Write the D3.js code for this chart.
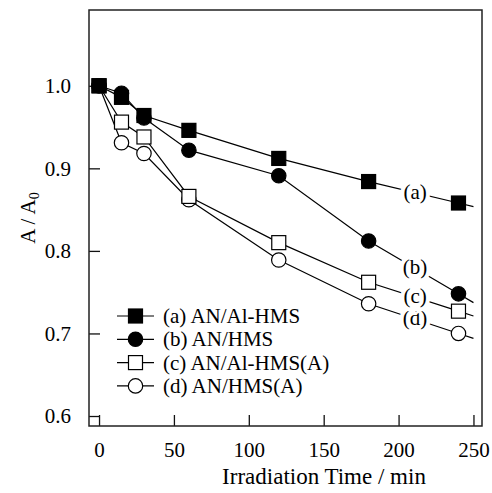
<!DOCTYPE html>
<html>
<head>
<meta charset="utf-8">
<script src="https://cdn.jsdelivr.net/npm/d3@7"></script>
<style>
  body { margin: 0; background: #fff; }
  svg { display: block; font-family: "Liberation Serif", "Times New Roman", serif; }
</style>
</head>
<body>
<div id="chart"></div>
<script>
// data
const times = [0, 15, 30, 60, 120, 180, 240];
const seriesA = [1.0, 0.986, 0.964, 0.946, 0.912, 0.884, 0.858]; // AN/Al-HMS
const seriesB = [1.0, 0.991, 0.961, 0.922, 0.891, 0.812, 0.748]; // AN/HMS
const seriesC = [1.0, 0.956, 0.938, 0.866, 0.810, 0.762, 0.727]; // AN/Al-HMS(A)
const seriesD = [1.0, 0.931, 0.918, 0.862, 0.789, 0.736, 0.700]; // AN/HMS(A)
const xTicks = [0, 50, 100, 150, 200, 250];
const yTicks = [0.6, 0.7, 0.8, 0.9, 1.0];
const tags = ["(a)", "(b)", "(c)", "(d)"];
const names = ["(a) AN/Al-HMS", "(b) AN/HMS", "(c) AN/Al-HMS(A)", "(d) AN/HMS(A)"];

const width = 492;
const height = 493;
const margin = { top: 10, right: 10, bottom: 67, left: 89 };

const series = [
    { tag: tags[0], name: names[0], values: seriesA, shape: "square", fill: "#000" },
    { tag: tags[1], name: names[1], values: seriesB, shape: "circle", fill: "#000" },
    { tag: tags[2], name: names[2], values: seriesC, shape: "square", fill: "#fff" },
    { tag: tags[3], name: names[3], values: seriesD, shape: "circle", fill: "#fff" },
];

const svg = d3.select("#chart").append("svg")
    .attr("width", width)
    .attr("height", height);

const xScale = d3.scaleLinear()
    .domain([-6.7, 255.7])
    .range([margin.left, width - margin.right]);

const yScale = d3.scaleLinear()
    .domain([0.5879, 1.0918])
    .range([height - margin.bottom, margin.top]);

// axes, ticks pointing inward
const xAxis = d3.axisBottom(xScale).tickValues(xTicks).tickSize(-11).tickPadding(16).tickFormat(d3.format("d"));
const yAxis = d3.axisLeft(yScale).tickValues(yTicks).tickSize(-11).tickPadding(18).tickFormat(d3.format(".1f"));

const gx = svg.append("g")
    .attr("transform", `translate(0, ${height - margin.bottom})`)
    .call(xAxis);
const gy = svg.append("g")
    .attr("transform", `translate(${margin.left}, 0)`)
    .call(yAxis);

[gx, gy].forEach(g => {
    g.attr("font-family", null);
    g.select(".domain").remove();
    g.selectAll("line").attr("stroke", "#111").attr("stroke-width", 1.3);
    g.selectAll("text").attr("font-size", 21).attr("fill", "#000");
});

// frame
svg.append("rect")
    .attr("x", margin.left)
    .attr("y", margin.top)
    .attr("width", width - margin.left - margin.right)
    .attr("height", height - margin.top - margin.bottom)
    .attr("fill", "none")
    .attr("stroke", "#222")
    .attr("stroke-width", 1.5);

// axis titles
svg.append("text")
    .attr("x", 324)
    .attr("y", 484)
    .attr("text-anchor", "middle")
    .attr("font-size", 23)
    .text("Irradiation Time / min");

const yTitle = svg.append("text")
    .attr("transform", "translate(35, 218) rotate(-90)")
    .attr("text-anchor", "middle")
    .attr("font-size", 21);
yTitle.append("tspan").text("A / A");
yTitle.append("tspan").attr("font-size", 14).attr("dy", 4).text("0");

const line = d3.line()
    .x(d => xScale(d[0]))
    .y(d => yScale(d[1]));

function drawMarker(g, shape, fill, cx, cy) {
    if (shape === "square") {
        g.append("rect")
            .attr("x", cx - 7).attr("y", cy - 7)
            .attr("width", 14).attr("height", 14)
            .attr("fill", fill).attr("stroke", "#000").attr("stroke-width", 1.2);
    } else {
        g.append("circle")
            .attr("cx", cx).attr("cy", cy).attr("r", 7.2)
            .attr("fill", fill).attr("stroke", "#000").attr("stroke-width", 1.2);
    }
}

// draw back to front so (a) ends on top
series.slice().reverse().forEach(s => {
    const pts = times.map((t, i) => [t, s.values[i]]);
    const n = pts.length;
    // short tail continuing the last segment
    const slope = (pts[n - 1][1] - pts[n - 2][1]) / (pts[n - 1][0] - pts[n - 2][0]);
    const tail = [250, pts[n - 1][1] + slope * 10];
    const g = svg.append("g");
    g.append("path")
        .datum(pts.concat([tail]))
        .attr("d", line)
        .attr("fill", "none")
        .attr("stroke", "#000")
        .attr("stroke-width", 1.2);

    // tag label on the last segment, with a white knockout
    const tx = 211;
    const ty = pts[n - 2][1] + (pts[n - 1][1] - pts[n - 2][1]) * (tx - pts[n - 2][0]) / (pts[n - 1][0] - pts[n - 2][0]);
    g.append("text")
        .attr("x", xScale(tx))
        .attr("y", yScale(ty) + 6)
        .attr("text-anchor", "middle")
        .attr("font-size", 21)
        .attr("stroke", "#fff")
        .attr("stroke-width", 8)
        .attr("paint-order", "stroke")
        .text(s.tag);

    pts.forEach(p => drawMarker(g, s.shape, s.fill, xScale(p[0]), yScale(p[1])));
});

// legend
const legend = svg.append("g");
series.forEach((s, i) => {
    const y = 316 + i * 23.3;
    legend.append("line")
        .attr("x1", 117).attr("x2", 154)
        .attr("y1", y).attr("y2", y)
        .attr("stroke", "#000").attr("stroke-width", 1.2);
    drawMarker(legend, s.shape, s.fill, 135.5, y);
    legend.append("text")
        .attr("x", 163)
        .attr("y", y + 7)
        .attr("font-size", 21)
        .text(s.name);
});
</script>
</body>
</html>
